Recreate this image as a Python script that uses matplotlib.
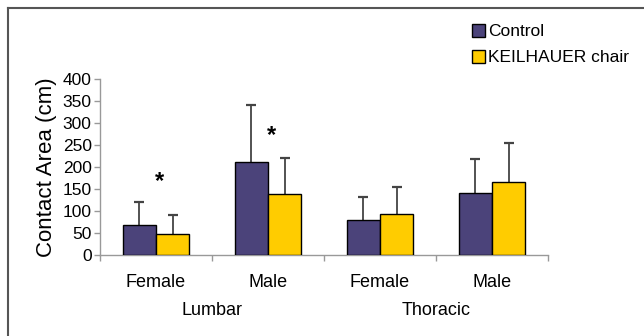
import matplotlib
matplotlib.use("Agg")
import matplotlib.pyplot as plt
from matplotlib.lines import Line2D
from matplotlib.patches import Patch
import numpy as np

plt.rcParams['font.family'] = ['Liberation Sans', 'DejaVu Sans']

categories = ["Female", "Male", "Female", "Male"]
groups = ["Lumbar", "Thoracic"]
series = ["Control", "KEILHAUER chair"]
control = [68, 211, 80, 141]
control_sd = [52, 130, 52, 77]
keil = [48, 139, 93, 166]
keil_sd = [43, 81, 62, 89]
star_idx = [0, 1]
star_y = [166, 272]
yticks = [0, 50, 100, 150, 200, 250, 300, 350, 400]

c_control = "#4B437A"
c_keil = "#FFCC00"

fig = plt.figure(figsize=(6.44, 3.36), dpi=100)
ax = fig.add_axes([100/644, 1-255/336, 448/644, 176/336])

x = np.arange(len(categories))
w = 0.295
ax.bar(x - w/2, control, w, color=c_control, edgecolor="black", linewidth=1.0, zorder=3)
ax.bar(x + w/2, keil, w, color=c_keil, edgecolor="black", linewidth=1.0, zorder=3)
for xs, vals, sd in [(x - w/2, control, control_sd), (x + w/2, keil, keil_sd)]:
    eb = ax.errorbar(xs, vals, yerr=[np.zeros(4), sd], fmt='none',
                     ecolor="#444444", elinewidth=1.3, capsize=3.8, capthick=1.6, zorder=2)
    for cl in eb[1]:
        if np.allclose(cl.get_ydata(), vals):
            cl.set_visible(False)

for i, yv in zip(star_idx, star_y):
    ax.text(x[i] + 0.03, yv, "*", ha="center", va="center", fontsize=17, fontweight="bold")

ax.set_xlim(-0.5, 3.5)
ax.set_ylim(0, 400)
ax.set_yticks(yticks)
ax.set_yticklabels([str(v) for v in yticks], fontsize=12.5)
ax.set_xticks([-0.5, 0.5, 1.5, 2.5, 3.5])
ax.set_xticklabels([])
ax.tick_params(axis='both', color="#999999", length=4, width=1, direction='out')
ax.tick_params(axis='y', pad=2)
for s in ["top", "right"]:
    ax.spines[s].set_visible(False)
for s in ["left", "bottom"]:
    ax.spines[s].set_color("#999999")
    ax.spines[s].set_linewidth(1.0)

for i, c in enumerate(categories):
    ax.text(x[i], -62, c, ha="center", va="center", fontsize=13, clip_on=False)
for g, gx in zip(groups, [0.5, 2.5]):
    ax.text(gx, -127, g, ha="center", va="center", fontsize=13, clip_on=False)

ax.set_ylabel("Contact Area (cm)", fontsize=16, labelpad=4)

handles = [Patch(facecolor=c_control, edgecolor="black", linewidth=1.0),
           Patch(facecolor=c_keil, edgecolor="black", linewidth=1.0)]
fig.legend(handles, series, loc="upper left", bbox_to_anchor=(472/644, 1-24/336),
           frameon=False, fontsize=12.5, handlelength=0.75, handleheight=0.75,
           handletextpad=0.2, labelspacing=0.6, borderaxespad=0, borderpad=0)

# figure border (top & left)
fig.add_artist(Line2D([8/644, 1], [1-8/336, 1-8/336], color="#555555", linewidth=1.5, transform=fig.transFigure))
fig.add_artist(Line2D([8/644, 8/644], [0, 1-8/336], color="#555555", linewidth=1.5, transform=fig.transFigure))

fig.savefig("out.png", dpi=100)
